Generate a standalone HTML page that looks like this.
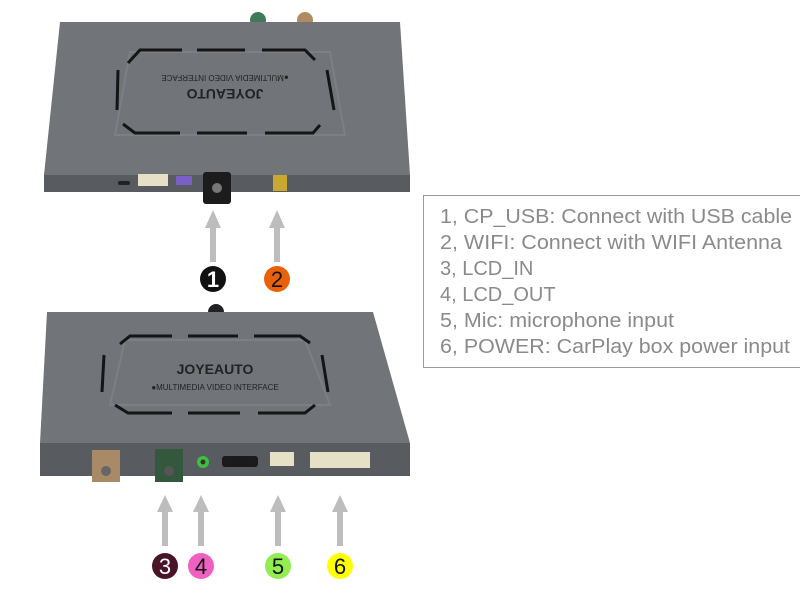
<!DOCTYPE html>
<html><head><style>
body{margin:0;background:#fff;}
svg{display:block;}
</style></head><body>
<svg width="800" height="600" viewBox="0 0 800 600" xmlns="http://www.w3.org/2000/svg" font-family="Liberation Sans, sans-serif">
<rect width="800" height="600" fill="#fff"/>
<!-- top box -->
<circle cx="258" cy="20" r="8" fill="#3f7a5a"/>
<circle cx="305" cy="20" r="8" fill="#b08a60"/>
<polygon points="60,22 400,22 410,175 44,175" fill="#717478"/>
<rect x="44" y="175" width="366" height="17" fill="#585b5f"/>
<polygon points="130,52 330,52 345,135 115,135" fill="none" stroke="#7c7f83" stroke-width="2"/>
<g stroke="#151515" stroke-width="3" fill="none">
<polyline points="128,63 140,50 182,50"/><line x1="197" y1="50" x2="245" y2="50"/><polyline points="262,50 305,50 315,60"/>
<polyline points="123,124 135,133 180,133"/><line x1="197" y1="133" x2="247" y2="133"/><polyline points="265,133 313,133 320,125"/>
<line x1="118" y1="70" x2="117" y2="110"/><line x1="327" y1="70" x2="334" y2="110"/>
</g>
<text x="225" y="81" font-size="8" fill="#222" text-anchor="middle" transform="rotate(180 225 78)">●MULTIMEDIA VIDEO INTERFACE</text>
<text x="225" y="99" font-size="14" font-weight="bold" fill="#222" text-anchor="middle" transform="rotate(180 225 94)">JOYEAUTO</text>
<rect x="138" y="174" width="30" height="12" fill="#e6e0c6"/>
<rect x="176" y="176" width="16" height="9" fill="#7b5fc6"/>
<rect x="203" y="172" width="28" height="32" rx="3" fill="#1c1c1c"/>
<circle cx="217" cy="188" r="5" fill="#777"/>
<rect x="273" y="175" width="14" height="16" fill="#c8a830"/>
<rect x="118" y="181" width="12" height="4" rx="2" fill="#222"/>
<!-- arrows -->
<g fill="#bdbdbd">
<rect x="210" y="226" width="6" height="36"/><polygon points="205,228 213,210 221,228"/>
<rect x="274" y="226" width="6" height="36"/><polygon points="269,228 277,210 285,228"/>
<rect x="162" y="510" width="6" height="36"/><polygon points="157,512 165,495 173,512"/>
<rect x="198" y="510" width="6" height="36"/><polygon points="193,512 201,495 209,512"/>
<rect x="275" y="510" width="6" height="36"/><polygon points="270,512 278,495 286,512"/>
<rect x="337" y="510" width="6" height="36"/><polygon points="332,512 340,495 348,512"/>
</g>
<circle cx="213" cy="279" r="13" fill="#111"/><text x="213" y="287" font-size="22" fill="#fff" text-anchor="middle" font-weight="bold">1</text>
<circle cx="277" cy="279" r="13" fill="#e8620c"/><text x="277" y="287" font-size="22" fill="#111" text-anchor="middle">2</text>
<!-- bottom box -->
<circle cx="216" cy="312" r="8" fill="#222"/>
<polygon points="47,312 373,312 410,443 40,443" fill="#717478"/>
<rect x="40" y="443" width="370" height="33" fill="#585b5f"/>
<polygon points="125,340 305,340 330,405 110,405" fill="none" stroke="#7c7f83" stroke-width="2"/>
<g stroke="#151515" stroke-width="3" fill="none">
<polyline points="120,344 130,336 172,336"/><line x1="188" y1="336" x2="238" y2="336"/><polyline points="254,336 300,336 310,343"/>
<polyline points="115,405 128,413 172,413"/><line x1="188" y1="413" x2="240" y2="413"/><polyline points="258,413 305,413 315,405"/>
<line x1="104" y1="355" x2="102" y2="392"/><line x1="322" y1="355" x2="328" y2="392"/>
</g>
<text x="215" y="374" font-size="14" font-weight="bold" fill="#222" text-anchor="middle">JOYEAUTO</text>
<text x="215" y="390" font-size="8" fill="#222" text-anchor="middle">●MULTIMEDIA VIDEO INTERFACE</text>
<rect x="92" y="450" width="28" height="32" fill="#a88a66"/><circle cx="106" cy="471" r="5" fill="#666"/>
<rect x="155" y="449" width="28" height="33" fill="#34583e"/><circle cx="169" cy="471" r="5" fill="#555"/>
<circle cx="203" cy="462" r="6" fill="#3fbf3f"/><circle cx="203" cy="462" r="2.5" fill="#333"/>
<rect x="222" y="456" width="36" height="11" rx="3" fill="#1a1a1a"/>
<rect x="270" y="452" width="24" height="14" fill="#e6e0c6"/>
<rect x="310" y="452" width="60" height="16" fill="#e6e0c6"/>
<circle cx="165" cy="566" r="13" fill="#4a1428"/><text x="165" y="574" font-size="22" fill="#fff" text-anchor="middle">3</text>
<circle cx="201" cy="566" r="13" fill="#f060c0"/><text x="201" y="574" font-size="22" fill="#111" text-anchor="middle">4</text>
<circle cx="278" cy="566" r="13" fill="#90ee50"/><text x="278" y="574" font-size="22" fill="#111" text-anchor="middle">5</text>
<circle cx="340" cy="566" r="13" fill="#ffff00"/><text x="340" y="574" font-size="22" fill="#111" text-anchor="middle">6</text>
<!-- legend -->
<rect x="423.5" y="195.5" width="380" height="172" fill="#fff" stroke="#999" stroke-width="1"/>
<g font-size="20" fill="#8a8a8a">
<text x="440" y="223" textLength="352" lengthAdjust="spacingAndGlyphs">1, CP_USB: Connect with USB cable</text>
<text x="440" y="249" textLength="342" lengthAdjust="spacingAndGlyphs">2, WIFI: Connect with WIFI Antenna</text>
<text x="440" y="275">3, LCD_IN</text>
<text x="440" y="301">4, LCD_OUT</text>
<text x="440" y="327" textLength="234" lengthAdjust="spacingAndGlyphs">5, Mic: microphone input</text>
<text x="440" y="353" textLength="350" lengthAdjust="spacingAndGlyphs">6, POWER: CarPlay box power input</text>
</g>
</svg>
</body></html>
